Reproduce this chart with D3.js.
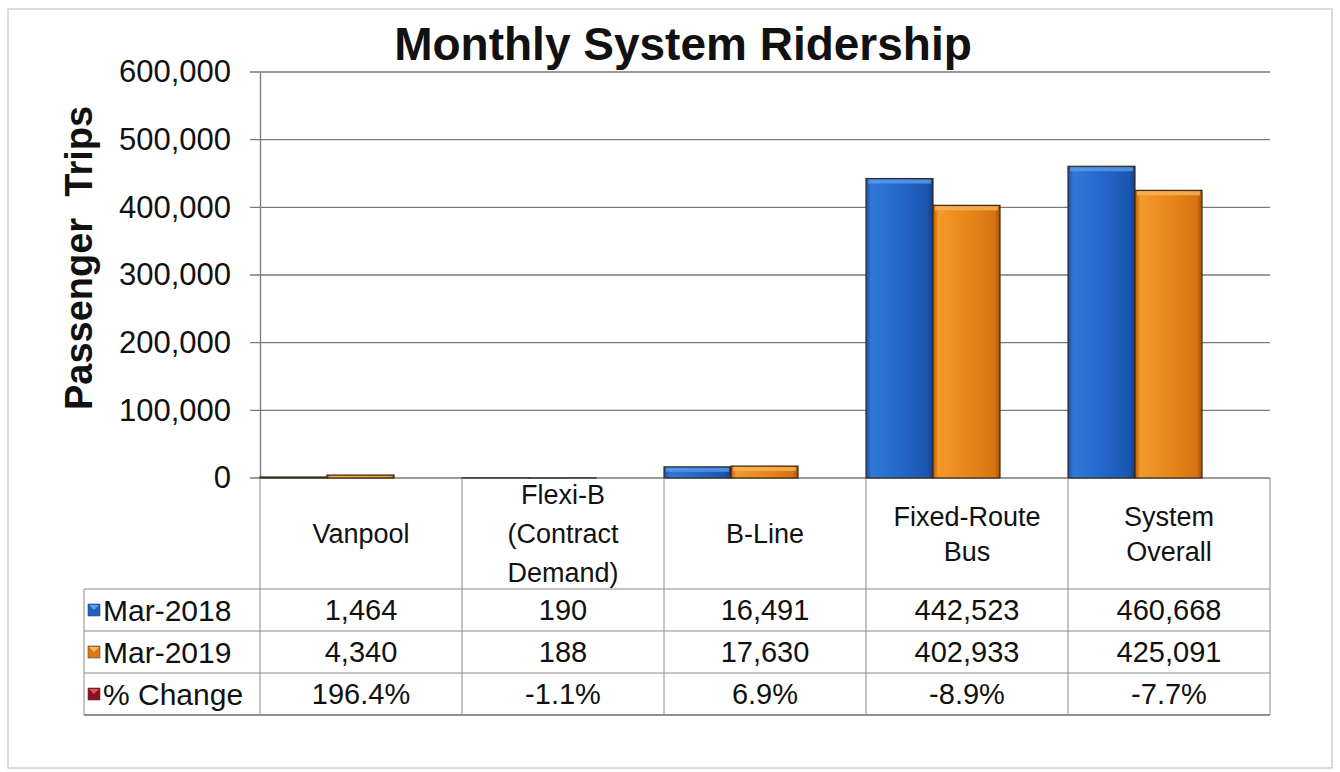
<!DOCTYPE html>
<html><head><meta charset="utf-8">
<script src="https://cdn.jsdelivr.net/npm/d3@7"></script>
<style>html,body{margin:0;padding:0;background:#fff;}svg{display:block;font-family:"Liberation Sans",Arial,sans-serif;}</style>
</head><body>
<script>
const categories = [["Vanpool"],["Flexi-B","(Contract","Demand)"],["B-Line"],["Fixed-Route","Bus"],["System","Overall"]];
const seriesNames = ["Mar-2018","Mar-2019","% Change"];
const mar2018 = [1464,190,16491,442523,460668];
const mar2019 = [4340,188,17630,402933,425091];
const pctChange = ["196.4%","-1.1%","6.9%","-8.9%","-7.7%"];
const yTicks = [0,100000,200000,300000,400000,500000,600000];

const W=1340,H=772;
const svg=d3.select("body").append("svg").attr("width",W).attr("height",H);
const defs=svg.append("defs");
function grad(id,stops){const g=defs.append("linearGradient").attr("id",id).attr("x1","0").attr("x2","1").attr("y1","0").attr("y2","0");
 stops.forEach(s=>g.append("stop").attr("offset",s[0]).attr("stop-color",s[1]));}
grad("gBlue",[[0,"#1a4fa8"],[0.08,"#2f78d8"],[0.5,"#2468cc"],[0.92,"#1b55b0"],[1,"#143c86"]]);
grad("gOrange",[[0,"#b85a08"],[0.08,"#f39a2a"],[0.5,"#e9861a"],[0.92,"#d97312"],[1,"#a2500a"]]);

// outer frame
svg.append("rect").attr("x",8).attr("y",9).attr("width",1324).attr("height",759).attr("fill","none").attr("stroke","#cfcfcf").attr("stroke-width",1.5);

const x0=d3.scaleBand().domain(d3.range(categories.length)).range([260,1270]);
const y=d3.scaleLinear().domain([0,600000]).range([478,72]);
const x1=d3.scaleBand().domain([0,1]).range([0,134]);

// gridlines
svg.append("g").selectAll("line").data(yTicks).join("line")
 .attr("x1",250).attr("x2",1270).attr("y1",d=>y(d)).attr("y2",d=>y(d))
 .attr("stroke","#7a7a7a").attr("stroke-width",1.3);
// y axis
const yAxis=d3.axisLeft(y).tickValues(yTicks).tickFormat(d3.format(",")).tickSize(0).tickPadding(29);
const ga=svg.append("g").attr("transform","translate(260,0)").call(yAxis);
ga.select(".domain").attr("stroke","#7a7a7a").attr("stroke-width",1.3);
ga.selectAll("text").attr("font-size",31).attr("fill","#111").attr("font-family","Liberation Sans, Arial, sans-serif");

// bars
const series=[{vals:mar2018,fill:"url(#gBlue)",top:"#5a9ae8"},{vals:mar2019,fill:"url(#gOrange)",top:"#f7b458"}];
series.forEach((s,si)=>{
 const g=svg.append("g");
 g.selectAll("rect.bar").data(s.vals).join("rect").attr("class","bar")
  .attr("x",(d,i)=>x0(i)+x1(si)).attr("width",x1.bandwidth())
  .attr("y",d=>y(d)).attr("height",d=>y(0)-y(d))
  .attr("fill",s.fill).attr("stroke","#3a2a1a").attr("stroke-width",1.2);
 g.selectAll("rect.top").data(s.vals).join("rect").attr("class","top")
  .attr("x",(d,i)=>x0(i)+x1(si)+2).attr("width",x1.bandwidth()-4)
  .attr("y",d=>y(d)+1).attr("height",d=>Math.min(4,Math.max(0,y(0)-y(d)-2)))
  .attr("fill",s.top).attr("opacity",0.8);
});

// data table
const tbl=svg.append("g");
const rowY=[478,589,631,673,715];
const lc="#8a8a8a";
tbl.append("line").attr("x1",84).attr("x2",1270).attr("y1",rowY[1]).attr("y2",rowY[1]).attr("stroke",lc);
tbl.append("line").attr("x1",84).attr("x2",1270).attr("y1",rowY[2]).attr("y2",rowY[2]).attr("stroke",lc);
tbl.append("line").attr("x1",84).attr("x2",1270).attr("y1",rowY[3]).attr("y2",rowY[3]).attr("stroke",lc);
tbl.append("line").attr("x1",84).attr("x2",1270).attr("y1",rowY[4]).attr("y2",rowY[4]).attr("stroke","#6a6a6a").attr("stroke-width",1.6);
const vx=categories.map((c,i)=>x0(i)).concat([1270]);
tbl.selectAll("line.v").data(vx).join("line").attr("class","v")
 .attr("x1",d=>d).attr("x2",d=>d).attr("y1",rowY[0]).attr("y2",rowY[4]).attr("stroke",lc);
tbl.append("line").attr("x1",84).attr("x2",84).attr("y1",rowY[1]).attr("y2",rowY[4]).attr("stroke",lc);

// category labels
const cx=i=>x0(i)+x0.bandwidth()/2;
categories.forEach((lines,i)=>{
 const lh=lines.length>2?39:35, mid=534;
 const t=tbl.append("text").attr("text-anchor","middle").attr("font-size",27).attr("fill","#111");
 lines.forEach((l,k)=>t.append("tspan").attr("x",cx(i)).attr("y",mid+(k-(lines.length-1)/2)*lh).attr("dy","0.35em").text(l));
});
const fmt=d3.format(",");
const rows=[mar2018.map(fmt),mar2019.map(fmt),pctChange];
rows.forEach((r,ri)=>{
 const ym=(rowY[ri+1]+rowY[ri+2])/2;
 tbl.selectAll(null).data(r).join("text").attr("x",(d,i)=>cx(i)).attr("y",ym).attr("dy","0.36em")
  .attr("text-anchor","middle").attr("font-size",29).attr("fill","#111").text(d=>d);
});
// legend keys
const keyCols=[["#1e5fc0","#5aa0f0"],["#d97a14","#f5b860"],["#8a1020","#e05060"]];
seriesNames.forEach((n,ri)=>{
 const ym=(rowY[ri+1]+rowY[ri+2])/2;
 tbl.append("rect").attr("x",88).attr("y",ym-6).attr("width",12).attr("height",12).attr("fill",keyCols[ri][0]).attr("stroke","#444").attr("stroke-width",0.6);
 tbl.append("path").attr("d",`M${89},${ym-5} L${94},${ym} L${99},${ym-5} Z`).attr("fill",keyCols[ri][1]);
 tbl.append("text").attr("x",103).attr("y",ym).attr("dy","0.36em").attr("font-size",30).attr("fill","#111").text(n);
});

// titles
svg.append("text").attr("x",683).attr("y",60).attr("text-anchor","middle").attr("font-size",46).attr("font-weight","bold").attr("fill","#111").text("Monthly System Ridership");
svg.append("text").attr("transform","translate(92,258) rotate(-90)").attr("text-anchor","middle").attr("font-size",38).attr("font-weight","bold").attr("fill","#111").style("white-space","pre").text("Passenger  Trips");
</script>
</body></html>
